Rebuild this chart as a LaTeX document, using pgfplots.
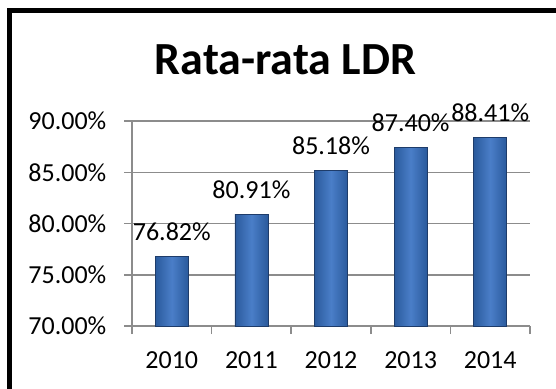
\documentclass[border=0pt]{standalone}
\usepackage{pgfplots}
\pgfplotsset{compat=1.18}
\usepackage{fontspec}
\setmainfont{Carlito}
\definecolor{gridc}{HTML}{8C8C8C}
\definecolor{barE}{HTML}{2A5A9C}
\definecolor{barM}{HTML}{4A7EC8}
\definecolor{barD}{HTML}{1E3C6A}
\tikzset{barsty/.style={draw=barD, line width=0.8bp, left color=barE, right color=barE, middle color=barM}}
\begin{document}
\begin{tikzpicture}[x=1bp,y=1bp]
\path[use as bounding box] (0,0) rectangle (556,388);
\draw[line width=4.5bp, black] (9.5,-10) -- (9.5,377.5) -- (570,377.5);
\node[anchor=base, inner sep=0pt, font=\fontsize{46bp}{50bp}\selectfont\bfseries] at (285.5,314) {Rata-rata LDR};
\begin{axis}[at={(132bp,62bp)}, anchor=south west,
  width=398bp, height=205bp, scale only axis,
  xmin=-0.5, xmax=4.5, ymin=70, ymax=90,
  ybar, bar width=33bp, bar shift=0pt,
  axis x line*=bottom, axis y line*=left,
  axis line style={gridc, line width=1.5bp, -},
  xtick={-0.5,0.5,1.5,2.5,3.5,4.5}, xticklabels={},
  extra x ticks={0,1,2,3,4},
  extra x tick labels={2010,2011,2012,2013,2014},
  extra x tick style={major tick length=0pt, xticklabel style={anchor=base, inner sep=0pt, yshift=-42bp}},
  ytick={70,75,80,85,90},
  ymajorgrids, major grid style={gridc, line width=1.5bp},
  tick align=outside, major tick length=8bp,
  tick style={gridc, line width=1.5bp},
  /pgf/number format/assume math mode=true,
  yticklabel={\pgfmathprintnumber[fixed,fixed zerofill,precision=2]{\tick}\%},
  yticklabel style={anchor=east, inner sep=0pt, xshift=-17.5bp},
  tick label style={font=\fontsize{26bp}{31bp}\selectfont},
  nodes near coords={\pgfmathprintnumber[fixed,fixed zerofill,precision=2]{\pgfplotspointmeta}\%},
  nodes near coords style={anchor=base, inner sep=0pt, yshift=16bp, font=\fontsize{26bp}{31bp}\selectfont, text=black},
  clip=false,
]
\addplot[barsty] coordinates {(0,76.82)};
\addplot[barsty] coordinates {(1,80.91)};
\addplot[barsty] coordinates {(2,85.18)};
\addplot[barsty] coordinates {(3,87.40)};
\addplot[barsty] coordinates {(4,88.41)};
\end{axis}
\end{tikzpicture}
\end{document}
